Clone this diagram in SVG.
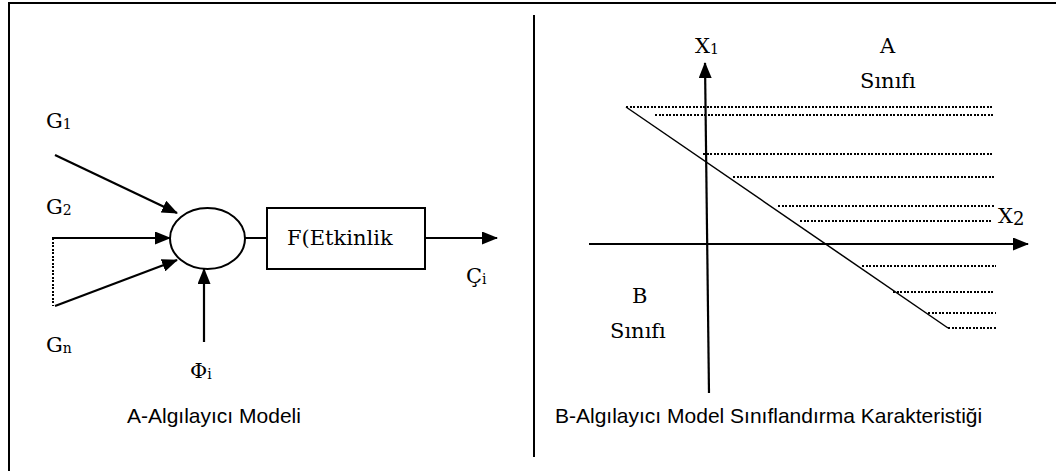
<svg xmlns="http://www.w3.org/2000/svg" width="1056" height="471" viewBox="0 0 1056 471">
<defs>
<marker id="ah" markerUnits="userSpaceOnUse" markerWidth="16" markerHeight="13" refX="15" refY="6.5" orient="auto">
<path d="M0,0 L16,6.5 L0,13 z" fill="#000"/>
</marker>
<style>
.ser{font-family:"DejaVu Serif","Liberation Serif",serif;font-size:21px;fill:#000}
.sub{font-size:14px}
.cap{font-family:"Liberation Sans",Arial,sans-serif;font-size:21px;fill:#000}
.ln{stroke:#000;stroke-width:2;fill:none}
.arr{stroke:#000;stroke-width:2.2;fill:none;marker-end:url(#ah)}
.dot{stroke:#000;stroke-width:1.5;stroke-dasharray:2 1.5;fill:none;shape-rendering:crispEdges}
</style>
</defs>
<rect width="1056" height="471" fill="#fff"/>
<g id="frame">
<line class="ln" x1="9" y1="3" x2="1056" y2="3"/>
<line class="ln" x1="9" y1="2" x2="9" y2="471"/>
<line class="ln" x1="534" y1="15" x2="534" y2="457"/>
</g>
<g id="connectors">
<line class="arr" x1="55" y1="155" x2="177" y2="213"/>
<line class="arr" x1="52" y1="238" x2="170" y2="238"/>
<line class="dot" x1="53" y1="238" x2="53" y2="306"/>
<line class="arr" x1="55" y1="306" x2="177" y2="260"/>
<line class="arr" x1="204" y1="342" x2="204" y2="269"/>
<line class="ln" x1="245" y1="238" x2="267" y2="238"/>
<line class="arr" x1="425" y1="238" x2="497" y2="238"/>
</g>
<g id="sum-node">
<ellipse cx="207.5" cy="238.5" rx="37.5" ry="30.5" fill="#fff" stroke="#000" stroke-width="2"/>
</g>
<g id="activation-node">
<rect x="267" y="208" width="158" height="61" fill="#fff" stroke="#000" stroke-width="2"/>
<text class="ser" x="287" y="245">F(Etkinlik</text>
</g>
<g id="labels-a">
<text class="ser" x="46" y="128">G<tspan class="sub" dy="1">1</tspan></text>
<text class="ser" x="46" y="214">G<tspan class="sub" dy="1">2</tspan></text>
<text class="ser" x="46" y="352">G<tspan class="sub" dy="1">n</tspan></text>
<text class="ser" x="190" y="378">Φ<tspan class="sub" dy="1">i</tspan></text>
<text class="ser" x="466" y="283">Ç<tspan class="sub" dy="1">i</tspan></text>
<text class="cap" x="127" y="423">A-Algılayıcı Modeli</text>
</g>
<g id="chart">
<g id="hatch">
<line class="dot" x1="626" y1="107" x2="994" y2="107"/>
<line class="dot" x1="655" y1="115" x2="994" y2="115"/>
<line class="dot" x1="703" y1="154" x2="994" y2="154"/>
<line class="dot" x1="733" y1="177" x2="994" y2="177"/>
<line class="dot" x1="778" y1="206" x2="994" y2="206"/>
<line class="dot" x1="800" y1="221" x2="991" y2="221"/>
<line class="dot" x1="862" y1="266" x2="996" y2="266"/>
<line class="dot" x1="893" y1="292" x2="993" y2="292"/>
<line class="dot" x1="928" y1="313" x2="996" y2="313"/>
<line class="dot" x1="948" y1="328" x2="996" y2="328"/>
</g>
<line stroke="#000" stroke-width="1.5" x1="626" y1="107" x2="948" y2="328"/>
<line class="arr" x1="709" y1="393" x2="705" y2="63"/>
<line class="arr" x1="589" y1="244" x2="1028" y2="244"/>
<text class="ser" x="695" y="53">X<tspan class="sub" dy="1">1</tspan></text>
<text class="ser" x="880" y="53">A</text>
<text class="ser" x="860" y="88">Sınıfı</text>
<text class="ser" x="998" y="223">X<tspan font-size="18" dy="2">2</tspan></text>
<text class="ser" x="632" y="303">B</text>
<text class="ser" x="610" y="338">Sınıfı</text>
<text class="cap" x="555" y="423">B-Algılayıcı Model Sınıflandırma Karakteristiği</text>
</g>
</svg>
